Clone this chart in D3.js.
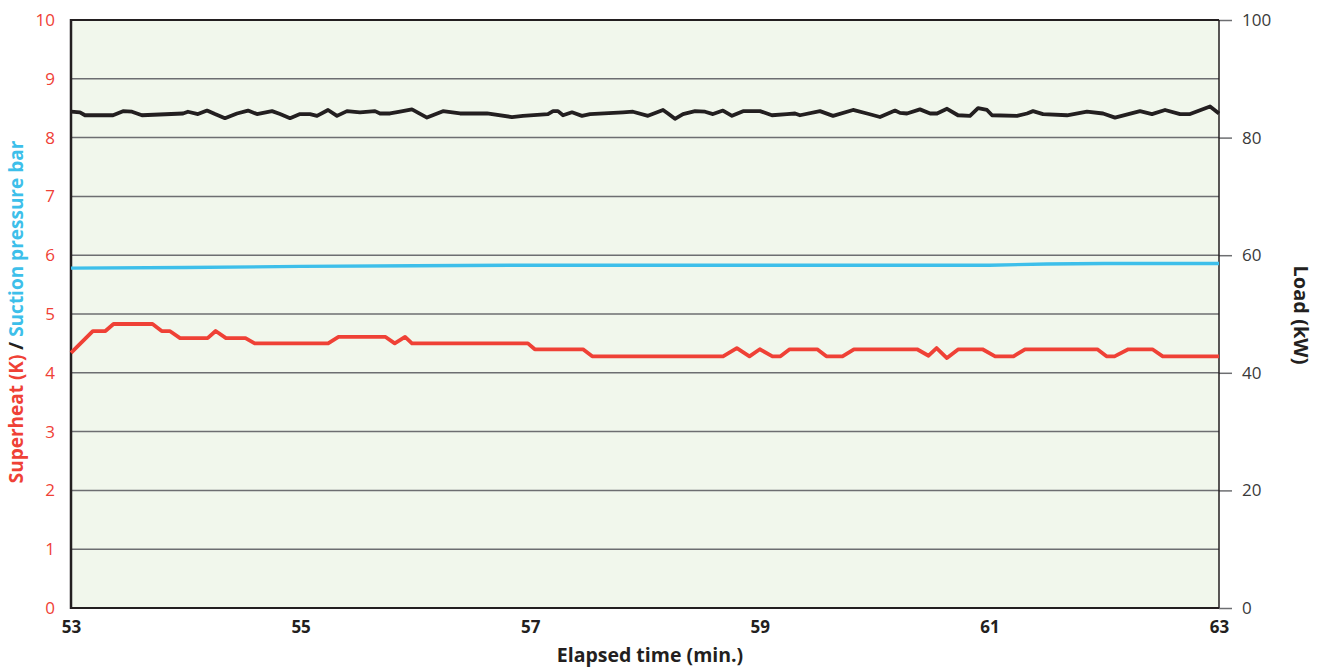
<!DOCTYPE html>
<html><head><meta charset="utf-8">
<script src="https://cdn.jsdelivr.net/npm/d3@7/dist/d3.min.js"></script>
<style>body{margin:0;background:#fff}svg{display:block}</style>
</head><body>
<svg id="c" width="1320" height="669"></svg>
<script>
const xTicks = [53, 55, 57, 59, 61, 63];
const leftTicks = [0,1,2,3,4,5,6,7,8,9,10];
const rightTicks = [0,20,40,60,80,100];

const superheat = [
 [53.00,4.34],[53.19,4.71],[53.30,4.71],[53.37,4.83],[53.71,4.83],[53.79,4.71],[53.86,4.71],
 [53.95,4.59],[54.19,4.59],[54.26,4.71],[54.35,4.59],[54.52,4.59],[54.60,4.50],[55.24,4.50],
 [55.33,4.61],[55.74,4.61],[55.82,4.50],[55.91,4.61],[55.97,4.50],[56.98,4.50],[57.04,4.40],
 [57.46,4.40],[57.54,4.28],[58.68,4.28],[58.80,4.42],[58.91,4.28],[59.00,4.40],[59.11,4.28],
 [59.18,4.28],[59.26,4.40],[59.50,4.40],[59.58,4.28],[59.72,4.28],[59.82,4.40],[60.37,4.40],
 [60.47,4.29],[60.54,4.42],[60.63,4.25],[60.73,4.40],[60.94,4.40],[61.05,4.28],[61.21,4.28],
 [61.31,4.40],[61.94,4.40],[62.02,4.28],[62.09,4.28],[62.21,4.40],[62.42,4.40],[62.51,4.28],
 [63.00,4.28]
];

const suction = [
 [53,5.78],[54,5.79],[55,5.81],[56,5.82],[57,5.83],[58,5.83],[59,5.83],[60,5.83],[61,5.83],
 [61.5,5.85],[62,5.86],[63,5.86]
];

const load = [
 [53.000,84.4],[53.078,84.3],[53.122,83.8],[53.366,83.8],[53.453,84.5],[53.531,84.4],[53.618,83.8],
 [53.976,84.1],[54.019,84.4],[54.106,84.0],[54.185,84.6],[54.254,84.0],[54.341,83.3],[54.446,84.1],
 [54.542,84.6],[54.620,84.0],[54.751,84.5],[54.821,84.0],[54.908,83.3],[54.995,84.0],[55.082,84.0],
 [55.143,83.7],[55.239,84.7],[55.317,83.7],[55.404,84.5],[55.517,84.3],[55.648,84.5],[55.692,84.1],
 [55.779,84.1],[55.866,84.4],[55.970,84.8],[56.101,83.4],[56.240,84.5],[56.389,84.1],[56.624,84.1],
 [56.841,83.5],[56.937,83.7],[57.155,84.0],[57.199,84.5],[57.242,84.5],[57.286,83.8],[57.364,84.3],
 [57.451,83.7],[57.521,84.0],[57.808,84.3],[57.895,84.4],[58.026,83.7],[58.157,84.7],[58.200,84.1],
 [58.261,83.2],[58.331,84.0],[58.436,84.5],[58.523,84.4],[58.592,84.0],[58.679,84.6],[58.758,83.7],
 [58.854,84.5],[59.002,84.5],[59.106,83.8],[59.237,84.0],[59.307,84.1],[59.350,83.8],[59.524,84.5],
 [59.638,83.7],[59.812,84.7],[59.934,84.1],[60.047,83.5],[60.178,84.6],[60.221,84.2],[60.282,84.1],
 [60.395,84.8],[60.484,84.1],[60.544,84.1],[60.631,84.9],[60.726,83.8],[60.831,83.7],[60.901,85.0],
 [60.979,84.7],[61.023,83.8],[61.240,83.7],[61.328,84.1],[61.380,84.5],[61.467,84.0],[61.676,83.8],
 [61.850,84.4],[61.990,84.1],[62.094,83.4],[62.312,84.5],[62.416,84.0],[62.530,84.7],[62.661,84.0],
 [62.748,84.0],[62.922,85.3],[63.000,84.1]
];

const W = 1320, H = 669;
const m = {l:71, r:101, t:20, b:61};
const svg = d3.select('#c');
const x = d3.scaleLinear().domain([53,63]).range([m.l, W-m.r]);
const yL = d3.scaleLinear().domain([0,10]).range([H-m.b, m.t]);
const yR = d3.scaleLinear().domain([0,100]).range([H-m.b, m.t]);
const font = "'Open Sans', 'Noto Sans', sans-serif";

svg.append('rect').attr('x', m.l).attr('y', m.t).attr('width', W-m.l-m.r).attr('height', H-m.t-m.b)
  .attr('fill', '#f1f7ec');

// gridlines
svg.append('g').selectAll('line').data(leftTicks.filter(d=>d>0&&d<10)).join('line')
  .attr('x1', m.l).attr('x2', W-m.r).attr('y1', d=>yL(d)).attr('y2', d=>yL(d))
  .attr('stroke', '#6d6e71').attr('stroke-width', 1.5);

// left axis
const gl = svg.append('g').attr('transform', `translate(${m.l},0)`)
  .call(d3.axisLeft(yL).tickValues(leftTicks).tickSize(0).tickPadding(16));
gl.select('.domain').remove();
gl.selectAll('text').attr('fill', '#ef4136').style('font-family', font).style('font-size', '17px');

// right axis
const gr = svg.append('g').attr('transform', `translate(${W-m.r},0)`)
  .call(d3.axisRight(yR).tickValues(rightTicks).tickSize(13).tickPadding(10));
gr.select('.domain').remove();
gr.selectAll('line').attr('stroke', '#6d6e71').attr('stroke-width', 1.5);
gr.selectAll('text').attr('fill', '#3a3a3a').style('font-family', font).style('font-size', '17px');

// bottom axis
const gb = svg.append('g').attr('transform', `translate(0,${H-m.b})`)
  .call(d3.axisBottom(x).tickValues(xTicks).tickSize(0).tickPadding(13));
gb.select('.domain').remove();
gb.selectAll('text').attr('fill', '#231f20').style('font-family', font).style('font-size', '17px').style('font-weight', 'bold');

// frame
svg.append('line').attr('x1', m.l).attr('x2', W-m.r).attr('y1', m.t).attr('y2', m.t).attr('stroke', '#231f20').attr('stroke-width', 2);
svg.append('line').attr('x1', W-m.r).attr('x2', W-m.r).attr('y1', m.t).attr('y2', H-m.b).attr('stroke', '#231f20').attr('stroke-width', 1.5);
svg.append('line').attr('x1', m.l).attr('x2', W-m.r).attr('y1', H-m.b).attr('y2', H-m.b).attr('stroke', '#231f20').attr('stroke-width', 2);
svg.append('line').attr('x1', m.l).attr('x2', m.l).attr('y1', m.t-1).attr('y2', H-m.b+1).attr('stroke', '#231f20').attr('stroke-width', 2.5);

// lines
const lineL = d3.line().x(d=>x(d[0])).y(d=>yL(d[1]));
const lineR = d3.line().x(d=>x(d[0])).y(d=>yR(d[1]));
svg.append('path').datum(suction).attr('d', lineL).attr('fill','none').attr('stroke','#3dbfea').attr('stroke-width',3.4).attr('stroke-linejoin','round');
svg.append('path').datum(superheat).attr('d', lineL).attr('fill','none').attr('stroke','#ef4136').attr('stroke-width',3.8).attr('stroke-linejoin','round');
svg.append('path').datum(load).attr('d', lineR).attr('fill','none').attr('stroke','#231f20').attr('stroke-width',3.8).attr('stroke-linejoin','round');

// axis titles
svg.append('text').attr('x', (m.l + W - m.r)/2 + 5).attr('y', 662).attr('text-anchor','middle')
  .style('font-family', font).style('font-size','19.5px').style('font-weight','bold').attr('fill','#231f20')
  .text('Elapsed time (min.)');

const lt = svg.append('text').attr('transform', 'translate(23,312) rotate(-90)').attr('text-anchor','middle')
  .style('font-family', font).style('font-size','19px').style('font-weight','bold');
lt.append('tspan').attr('fill','#ef4136').text('Superheat (K)');
lt.append('tspan').attr('fill','#231f20').text(' / ');
lt.append('tspan').attr('fill','#3dbfea').text('Suction pressure bar');

svg.append('text').attr('transform', 'translate(1294,315) rotate(90)').attr('text-anchor','middle')
  .style('font-family', font).style('font-size','20px').style('font-weight','bold').attr('fill','#231f20')
  .text('Load (kW)');
</script>
</body></html>
